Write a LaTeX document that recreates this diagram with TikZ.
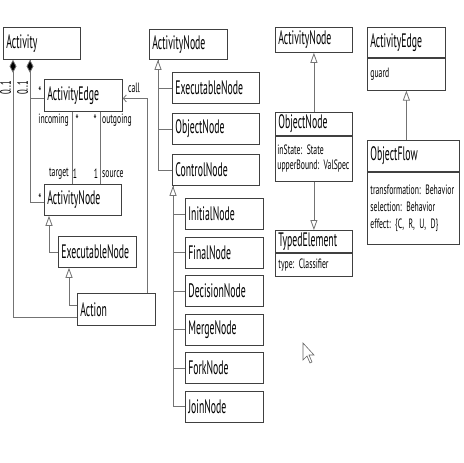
\documentclass[tikz,border=0pt]{standalone}
\usepackage{fontspec}
\setmainfont[FakeStretch=0.5]{PT Sans}
\newfontfamily\attfam[FakeStretch=0.57]{PT Sans}
\usetikzlibrary{arrows.meta,calc}
\newcommand{\ttlfont}{\fontsize{19.5}{21}\selectfont\frenchspacing\hyphenpenalty=10000 }
\newcommand{\attfont}{\attfam\fontsize{13.5}{15}\selectfont\frenchspacing\hyphenpenalty=10000 }
\newcommand{\lblfont}{\attfam\fontsize{13.5}{14}\selectfont}
\begin{document}
\begin{tikzpicture}[x=1pt,y=-1pt,
  box/.style={draw=black!75, fill=white, line width=0.8pt, rectangle, anchor=north west,
    inner xsep=3pt, inner ysep=0pt, align=left, font=\ttlfont},
  attbox/.style={box, font=\attfont},
  conn/.style={draw=black!55, line width=0.8pt},
  comp/.style={conn, {Diamond[fill=black,length=13pt,width=7pt]}-},
  gen/.style={conn, -{Triangle[fill=white,length=10pt,width=7pt]}},
  lbl/.style={font=\lblfont, inner sep=0pt},
  big/.style={font=\attfam\fontsize{15}{15}\selectfont, inner sep=0pt}]
\useasboundingbox (0,0) rectangle (463,463);
% ---- left column
\node[box, text width=71pt, minimum height=32pt] (act) at (3,27) {Activity};
\node[box, text width=72pt, minimum height=32pt] (ae) at (44,79) {ActivityEdge};
\node[box, text width=71pt, minimum height=31pt] (an) at (44,184) {ActivityNode};
\node[box, text width=72pt, minimum height=31pt] (en1) at (58,236) {ExecutableNode};
\node[box, text width=72pt, minimum height=32pt] (action) at (77,293) {Action};
% ---- middle column
\node[box, text width=72pt, minimum height=30pt] (anM) at (149,29) {ActivityNode};
\node[box, text width=81pt, minimum height=31pt] (en2) at (172,72) {ExecutableNode};
\node[box, text width=81pt, minimum height=31pt] (on2) at (172,113) {ObjectNode};
\node[box, text width=81pt, minimum height=31pt] (cn) at (172,154) {ControlNode};
\node[box, text width=72pt, minimum height=31pt] (ini) at (185,198) {InitialNode};
\node[box, text width=72pt, minimum height=31pt] (fin) at (185,236.5) {FinalNode};
\node[box, text width=72pt, minimum height=31pt] (dec) at (185,275) {DecisionNode};
\node[box, text width=72pt, minimum height=31pt] (mrg) at (185,313.5) {MergeNode};
\node[box, text width=72pt, minimum height=31pt] (frk) at (185,352) {ForkNode};
\node[box, text width=72pt, minimum height=31pt] (joi) at (185,390.5) {JoinNode};
% ---- third column
\node[box, text width=71pt, minimum height=25pt] (an3) at (275,27) {ActivityNode};
\node[box, text width=71pt, minimum height=23pt] (on3h) at (275,112) {ObjectNode};
\node[attbox, text width=73pt, inner xsep=2pt, minimum height=45pt] (on3a) at (on3h.south west) {\mbox{inState: State}\\\mbox{upperBound: ValSpec}};
\node[box, text width=71pt, minimum height=22pt] (te3h) at (275,230) {TypedElement};
\node[attbox, text width=71pt, minimum height=23pt] (te3a) at (te3h.south west) {type: Classifier};
% ---- fourth column
\node[box, text width=72pt, minimum height=30pt] (ae4h) at (367,27) {ActivityEdge};
\node[attbox, text width=72pt, minimum height=32pt] (ae4a) at (ae4h.south west) {guard};
\node[box, text width=86pt, minimum height=31pt] (ofh) at (367,140) {ObjectFlow};
\node[attbox, text width=86pt, minimum height=72pt, font=\attfam\fontsize{13.5}{17}\selectfont\frenchspacing] (ofa) at (ofh.south west) {\mbox{transformation: Behavior}\\selection: Behavior\\effect: \{C, R, U, D\}};
% ---- left connectors
\draw[comp] ($(act.south west)+(10,0)$) |- ($(action.south west)+(0,-8)$);
\draw[conn] ($(act.south west)+(27,0)$) |- ($(ae.west)+(0,3)$);
\draw[comp] ($(act.south west)+(27,0)$) |- ($(an.west)+(0,2)$);
\draw[conn] ($(ae.south west)+(28,0)$) -- ($(an.north west)+(28,0)$);
\draw[conn] ($(ae.south west)+(56,0)$) -- ($(an.north west)+(56,0)$);
\draw[conn, -{Straight Barb[length=3pt,width=7pt]}] ($(action.north west)+(70,0)$) |- ($(ae.east)+(0,3)$);
\draw[gen] (en1.west) -| ($(an.south west)+(5,0)$);
\draw[gen] ($(action.north west)+(0,12)$) -| ($(en1.south west)+(11,0)$);
% labels
\node[big, rotate=90] (m1) at (5.5,88) {0..1};
\node[big, rotate=90] (m2) at (22.5,88) {0..1};
\node[big] (s1) at (40,92) {*};
\node[big] (s2) at (40,199) {*};
\node[lbl, anchor=east] (linc) at (69,120) {incoming};
\node[big] (s3) at (77,120) {*};
\node[big] (s4) at (95,120) {*};
\node[lbl, anchor=west] (lout) at (102,120) {outgoing};
\node[lbl, anchor=east] (ltar) at (69,174) {target};
\node[lbl] (o1) at (75,174) {1};
\node[lbl] (o2) at (96,174) {1};
\node[lbl, anchor=west] (lsrc) at (102,174) {source};
\node[lbl, anchor=west] (lcall) at (128,88) {call};
% ---- middle connectors
\coordinate (tM) at ($(anM.south west)+(9,0)$);
\draw[conn] (en2.west) -| (tM);
\draw[conn] (on2.west) -| (tM);
\draw[gen] (cn.west) -| (tM);
\coordinate (tC) at ($(cn.south west)+(1,0)$);
\foreach \n in {ini,fin,dec,mrg,frk} {\draw[conn] (\n.west) -| (tC);}
\draw[gen] (joi.west) -| (tC);
% ---- third/fourth connectors
\draw[gen] (on3h.north) -- (an3.south);
\draw[gen] (on3a.south) -- (te3h.north);
\draw[gen] (ofh.north -| ae4a.south) -- (ae4a.south);
% ---- mouse cursor
\draw[black!60, line width=0.6pt, fill=white] (303,343) -- (303,360) -- (307,356) -- (310,363) -- (312,362) -- (309,355) -- (314,355) -- cycle;
\end{tikzpicture}
\end{document}
